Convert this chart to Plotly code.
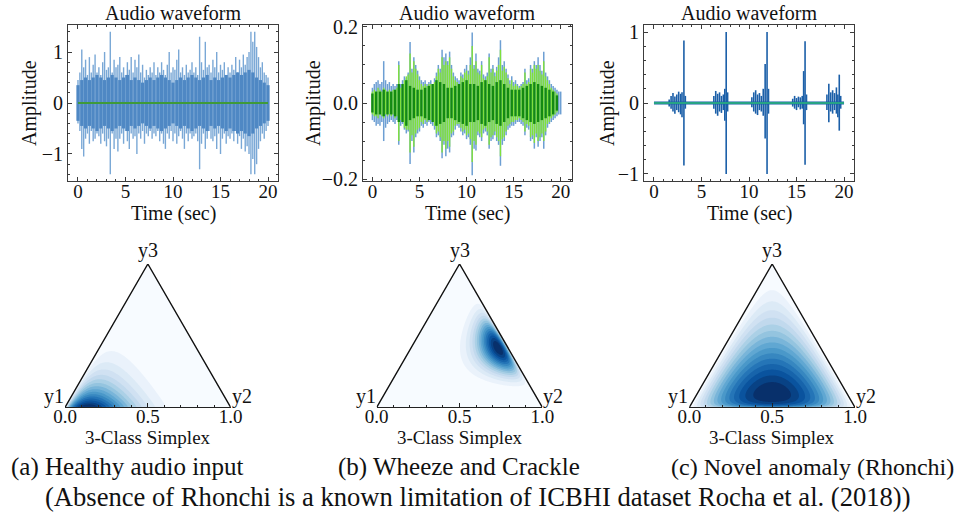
import numpy as np
import plotly.graph_objects as go
import plotly.colors as pc

W, H = 955, 521
def X(px): return px / W
def Y(py): return 1 - py / H

# ---------------- DATA ----------------
# (a) healthy: envelope of waveform, 0.2 s grid (0..20 s)
a_upper = [0.45, 0.6, 1.05, 0.7, 0.85, 0.55, 0.9, 0.6, 0.75, 0.95, 0.6,
           0.7, 0.55, 0.8, 1.0, 0.65, 0.7, 1.4, 0.6, 0.85, 0.7,
           0.75, 0.9, 0.6, 0.7, 0.55, 0.8, 0.65, 0.9, 0.6, 0.85,
           0.7, 0.95, 0.6, 0.75, 0.5, 0.65, 0.55, 0.7, 0.6, 0.8,
           0.55, 0.7, 0.6, 0.8, 0.65, 0.55, 0.75, 1.0, 0.6, 0.7,
           0.65, 0.85, 1.05, 0.6, 0.7, 0.55, 0.75, 0.6, 0.65, 0.8,
           0.6, 0.7, 0.55, 1.3, 0.8, 0.65, 1.2, 0.7, 0.75, 0.6,
           0.85, 0.7, 1.0, 0.6, 0.75, 0.65, 0.8, 0.55, 0.7, 0.6,
           0.75, 0.65, 0.9, 0.6, 0.85, 0.7, 0.95, 0.75, 0.9, 1.0,
           1.4, 1.2, 1.4, 1.1, 0.9, 0.7, 0.8, 0.6, 0.55, 0.5]
a_lower = [-0.4, -0.55, -0.9, -1.05, -0.7, -0.6, -0.8, -0.55, -0.75, -0.7, -0.6,
           -0.65, -0.8, -0.6, -0.75, -0.85, -0.7, -1.4, -0.6, -0.9, -0.7,
           -0.95, -0.7, -0.6, -0.8, -0.55, -0.75, -0.9, -0.6, -0.7, -0.65,
           -1.0, -0.6, -0.7, -0.55, -0.8, -0.6, -0.65, -0.55, -0.7, -0.6,
           -0.65, -0.55, -0.75, -0.6, -0.8, -0.9, -0.6, -0.7, -0.55, -0.75,
           -0.6, -0.8, -0.65, -0.55, -0.7, -0.9, -0.6, -0.75, -0.6, -0.7,
           -0.65, -0.6, -0.75, -1.3, -0.8, -0.6, -0.9, -0.7, -0.55, -0.7,
           -0.75, -0.65, -0.9, -0.6, -1.0, -0.7, -0.6, -0.8, -0.65, -0.7,
           -0.6, -0.75, -0.55, -0.8, -0.65, -0.9, -0.7, -0.95, -0.85, -1.0,
           -1.4, -1.1, -1.4, -1.2, -0.9, -0.75, -0.6, -0.7, -0.55, -0.45]
# (a) dense core amplitude, 0.4 s grid
a_core = [0.35, 0.45, 0.5, 0.45, 0.5, 0.55, 0.5, 0.45, 0.5, 0.55,
          0.5, 0.45, 0.5, 0.55, 0.45, 0.5, 0.45, 0.4, 0.45, 0.5,
          0.45, 0.5, 0.55, 0.5, 0.45, 0.4, 0.45, 0.5, 0.45, 0.5,
          0.55, 0.5, 0.45, 0.5, 0.55, 0.45, 0.5, 0.45, 0.5, 0.55,
          0.5, 0.55, 0.6, 0.55, 0.6, 0.65, 0.6, 0.5, 0.45, 0.4,
          0.35]
a_recon_t = [0, 20]
a_recon = [0.0, 0.0]

# (b) wheeze & crackle: blue (input) and green (reconstruction) envelopes, 0.2 s grid
b_blue_upper = [0.04, 0.05, 0.055, 0.06, 0.05, 0.055, 0.11, 0.06, 0.05, 0.055, 0.045,
                0.05, 0.045, 0.05, 0.11, 0.05, 0.06, 0.07, 0.065, 0.08, 0.16,
                0.09, 0.12, 0.1, 0.085, 0.07, 0.06, 0.055, 0.06, 0.05, 0.055,
                0.06, 0.05, 0.065, 0.08, 0.1, 0.09, 0.14, 0.12, 0.13, 0.11,
                0.135, 0.1, 0.08, 0.07, 0.065, 0.06, 0.08, 0.075, 0.09, 0.1,
                0.085, 0.12, 0.185, 0.1, 0.13, 0.09, 0.085, 0.11, 0.075, 0.07,
                0.08, 0.13, 0.09, 0.1, 0.08, 0.095, 0.12, 0.165, 0.1, 0.11,
                0.09, 0.075, 0.06, 0.07, 0.055, 0.06, 0.05, 0.045, 0.05, 0.055,
                0.09, 0.06, 0.065, 0.1, 0.09, 0.11, 0.1, 0.12, 0.1, 0.085,
                0.135, 0.08, 0.07, 0.06, 0.05, 0.045, 0.04, 0.035, 0.03, 0.03]
b_blue_lower = [-0.045, -0.05, -0.06, -0.055, -0.06, -0.05, -0.1, -0.065, -0.055, -0.05, -0.045,
                -0.05, -0.055, -0.045, -0.11, -0.06, -0.055, -0.07, -0.08, -0.075, -0.16,
                -0.1, -0.13, -0.09, -0.08, -0.075, -0.06, -0.065, -0.055, -0.06, -0.05,
                -0.055, -0.06, -0.07, -0.09, -0.085, -0.1, -0.145, -0.11, -0.14, -0.12,
                -0.13, -0.09, -0.085, -0.07, -0.06, -0.065, -0.075, -0.085, -0.08, -0.095,
                -0.09, -0.11, -0.19, -0.12, -0.125, -0.085, -0.09, -0.1, -0.08, -0.075,
                -0.085, -0.12, -0.1, -0.095, -0.085, -0.1, -0.11, -0.165, -0.11, -0.1,
                -0.085, -0.07, -0.065, -0.06, -0.06, -0.055, -0.05, -0.05, -0.055, -0.06,
                -0.085, -0.065, -0.07, -0.1, -0.095, -0.12, -0.09, -0.115, -0.1, -0.09,
                -0.12, -0.085, -0.065, -0.055, -0.05, -0.045, -0.04, -0.035, -0.03, -0.03]
b_green_upper = [0.03, 0.035, 0.03, 0.04, 0.035, 0.03, 0.04, 0.035, 0.03, 0.035, 0.03,
                 0.035, 0.03, 0.04, 0.1, 0.04, 0.05, 0.06, 0.07, 0.075, 0.13,
                 0.08, 0.11, 0.09, 0.075, 0.06, 0.05, 0.045, 0.05, 0.045, 0.05,
                 0.05, 0.045, 0.055, 0.07, 0.09, 0.08, 0.12, 0.1, 0.11, 0.1,
                 0.12, 0.09, 0.07, 0.06, 0.055, 0.05, 0.07, 0.065, 0.08, 0.085,
                 0.075, 0.1, 0.15, 0.09, 0.11, 0.08, 0.075, 0.1, 0.065, 0.06,
                 0.07, 0.12, 0.08, 0.09, 0.07, 0.085, 0.1, 0.14, 0.085, 0.095,
                 0.08, 0.065, 0.05, 0.06, 0.045, 0.05, 0.045, 0.04, 0.045, 0.05,
                 0.08, 0.05, 0.055, 0.09, 0.08, 0.1, 0.09, 0.1, 0.085, 0.075,
                 0.11, 0.07, 0.06, 0.05, 0.04, 0.035, 0.03, 0.025, 0.0, 0.0]
b_green_lower = [-0.03, -0.035, -0.035, -0.04, -0.03, -0.035, -0.04, -0.03, -0.035, -0.03, -0.035,
                 -0.03, -0.04, -0.035, -0.1, -0.045, -0.05, -0.065, -0.07, -0.07, -0.13,
                 -0.085, -0.115, -0.08, -0.07, -0.065, -0.05, -0.055, -0.045, -0.05, -0.045,
                 -0.045, -0.05, -0.06, -0.08, -0.075, -0.09, -0.13, -0.1, -0.12, -0.1,
                 -0.115, -0.08, -0.075, -0.06, -0.055, -0.055, -0.065, -0.075, -0.07, -0.085,
                 -0.08, -0.095, -0.155, -0.1, -0.11, -0.075, -0.08, -0.09, -0.07, -0.065,
                 -0.075, -0.11, -0.09, -0.085, -0.075, -0.09, -0.1, -0.14, -0.095, -0.09,
                 -0.075, -0.06, -0.055, -0.05, -0.05, -0.045, -0.045, -0.04, -0.045, -0.05,
                 -0.075, -0.055, -0.06, -0.09, -0.085, -0.105, -0.08, -0.1, -0.09, -0.08,
                 -0.1, -0.075, -0.055, -0.05, -0.04, -0.035, -0.03, -0.025, 0.0, 0.0]
# (b) dark green core, 0.4 s grid
b_core = [0.025, 0.03, 0.03, 0.035, 0.03, 0.03, 0.035, 0.05, 0.05, 0.06,
          0.045, 0.04, 0.035, 0.035, 0.04, 0.045, 0.05, 0.06, 0.055, 0.05,
          0.04, 0.04, 0.045, 0.05, 0.055, 0.06, 0.05, 0.05, 0.045, 0.055,
          0.06, 0.05, 0.045, 0.055, 0.06, 0.05, 0.04, 0.035, 0.035, 0.035,
          0.04, 0.045, 0.05, 0.055, 0.05, 0.045, 0.04, 0.035, 0.03, 0.02,
          0.0]

# (c) novel anomaly: burst spikes (time, up, down)
c_t = [1.6, 1.8, 2.0, 2.2, 2.4, 2.6, 2.8, 2.95, 3.15, 3.3,
       6.3, 6.5, 6.7, 6.9, 7.1, 7.3, 7.45, 7.6, 7.75,
       10.3, 10.5, 10.7, 10.9, 11.1, 11.3, 11.5, 11.7, 11.9, 12.05,
       14.6, 14.8, 15.0, 15.2, 15.4, 15.6, 15.75, 15.9, 16.05,
       18.2, 18.4, 18.6, 18.8, 19.0, 19.2, 19.35, 19.5, 19.65]
c_up = [0.05, 0.1, 0.14, 0.09, 0.12, 0.16, 0.13, 0.15, 0.88, 0.1,
        0.1, 0.17, 0.13, 0.15, 0.1, 0.12, 0.2, 1.0, 0.15,
        0.08, 0.15, 0.18, 0.12, 0.14, 0.1, 0.2, 0.55, 1.0, 0.2,
        0.06, 0.1, 0.07, 0.09, 0.08, 0.1, 0.45, 0.87, 0.12,
        0.12, 0.27, 0.15, 0.18, 0.14, 0.22, 0.12, 0.4, 0.1]
c_down = [-0.05, -0.08, -0.12, -0.15, -0.1, -0.13, -0.16, -0.2, -0.88, -0.08,
          -0.08, -0.15, -0.18, -0.12, -0.14, -0.1, -0.25, -1.0, -0.12,
          -0.06, -0.12, -0.15, -0.17, -0.1, -0.12, -0.18, -0.5, -1.0, -0.15,
          -0.05, -0.08, -0.1, -0.06, -0.09, -0.08, -0.3, -0.87, -0.1,
          -0.1, -0.27, -0.12, -0.15, -0.1, -0.15, -0.2, -0.39, -0.08]
c_recon_t = [0, 20]
c_recon = [0.0, 0.0]

# Dirichlet concentration read from the simplex densities (y1, y2, y3)
alpha_a = [6.0, 1.8, 1.02]
alpha_b = [1.8, 8.0, 6.5]
alpha_c = [2.0, 2.0, 1.2]

captions = ["(a) Healthy audio input", "(b) Wheeze and Crackle", "(c) Novel anomaly (Rhonchi)"]
footnote = "(Absence of Rhonchi is a known limitation of ICBHI dataset Rocha et al. (2018))"

# ---------------- FIGURE ----------------
FONT = "Liberation Serif"
AX = "#3c3c3c"
FS = 20
fig = go.Figure()

def segs(t, lo, hi):
    xs, ys = [], []
    for ti, l, h in zip(t, lo, hi):
        xs += [ti, ti, None]
        ys += [l, h, None]
    return xs, ys

def line(xs, ys, ax, color, width):
    fig.add_trace(go.Scatter(x=xs, y=ys, mode="lines", xaxis="x" + ax, yaxis="y" + ax,
                             line=dict(color=color, width=width), hoverinfo="skip",
                             showlegend=False))

t02 = np.round(np.arange(0, 20.001, 0.2), 2)
t04 = np.round(np.arange(0, 20.001, 0.4), 2)

# panel a
xs, ys = segs(t02, a_lower, a_upper); line(xs, ys, "", "#7aa8d6", 1.4)
xs, ys = segs(t04, [-v for v in a_core], a_core); line(xs, ys, "", "#4f88c4", 3.2)
line(a_recon_t, a_recon, "", "#3f9a3a", 2)

# panel b
xs, ys = segs(t02, b_blue_lower, b_blue_upper); line(xs, ys, "2", "#6d9fd3", 1.5)
xs, ys = segs(t02, b_green_lower, b_green_upper); line(xs, ys, "2", "#7fe03c", 1.4)
xs, ys = segs(t04, [-v for v in b_core], b_core); line(xs, ys, "2", "#138a12", 2.4)

# panel c
line([0, 20], [0, 0], "3", "#1b5fa8", 3)
xs, ys = segs(c_t, c_down, c_up); line(xs, ys, "3", "#1b5fa8", 1.6)
line(c_recon_t, c_recon, "3", "#26a384", 2)

# simplex densities
blues = pc.sequential.Blues
s3 = np.sqrt(3) / 2
gx = np.linspace(0, 1, 301)
gy = np.linspace(0, s3, 261)
GX, GY = np.meshgrid(gx, gy)
L3 = GY / s3
L2 = GX - L3 / 2
L1 = 1 - L2 - L3
inside = (L1 > 1e-6) & (L2 > 1e-6) & (L3 > 1e-6)

def dens(alpha):
    Z = np.zeros_like(GX)
    Z[inside] = (L1[inside] ** (alpha[0] - 1) * L2[inside] ** (alpha[1] - 1)
                 * L3[inside] ** (alpha[2] - 1))
    return Z

NL = 16
for ax, alpha in zip(["4", "5", "6"], [alpha_a, alpha_b, alpha_c]):
    Z = dens(alpha)
    zm = Z.max()
    fig.add_trace(go.Contour(x=gx, y=gy, z=Z, xaxis="x" + ax, yaxis="y" + ax,
                             colorscale=blues, zmin=0, zmax=zm, showscale=False,
                             contours=dict(start=zm / NL, end=zm * (NL - 1) / NL, size=zm / NL,
                                           coloring="fill", showlines=False),
                             line=dict(width=0), hoverinfo="skip"))
    fig.add_trace(go.Scatter(x=[-0.05, 0, 0.5, 0.5, -0.05, -0.05], y=[0, 0, s3, s3 + 0.05, s3 + 0.05, 0],
                             fill="toself", fillcolor="white", mode="lines", line=dict(width=0, color="white"),
                             xaxis="x" + ax, yaxis="y" + ax, hoverinfo="skip", showlegend=False))
    fig.add_trace(go.Scatter(x=[1.05, 1, 0.5, 0.5, 1.05, 1.05], y=[0, 0, s3, s3 + 0.05, s3 + 0.05, 0],
                             fill="toself", fillcolor="white", mode="lines", line=dict(width=0, color="white"),
                             xaxis="x" + ax, yaxis="y" + ax, hoverinfo="skip", showlegend=False))
    fig.add_trace(go.Scatter(x=[0, 0.5, 1], y=[0, s3, 0], mode="lines", cliponaxis=False,
                             line=dict(color="#111111", width=1.4),
                             xaxis="x" + ax, yaxis="y" + ax, hoverinfo="skip", showlegend=False))

def wave_axes(dom_x, rng_x, dom_y, rng_y, dtick_y, minor_y, fmt_y):
    common = dict(showline=True, linecolor=AX, linewidth=1, mirror="allticks", ticks="inside",
                  ticklen=4, tickwidth=1, tickcolor=AX, showgrid=False, zeroline=False,
                  automargin=False, tickfont=dict(family=FONT, size=FS, color="#111"))
    xa = dict(common, domain=dom_x, range=rng_x, dtick=5, tick0=0, ticklabelstandoff=-7,
              tickfont=dict(family=FONT, size=19, color="#111"),
              minor=dict(ticks="inside", ticklen=2, dtick=1, tickcolor=AX, showgrid=False))
    ya = dict(common, domain=dom_y, range=rng_y, dtick=dtick_y, tick0=0, tickformat=fmt_y,
              minor=dict(ticks="inside", ticklen=2, dtick=minor_y, tickcolor=AX, showgrid=False))
    return xa, ya

wy = [Y(181), Y(25)]
xa1, ya1 = wave_axes([X(68), X(278)], [-1.05, 21.05], wy, [-1.53, 1.53], 1, 0.2, "d")
xa2, ya2 = wave_axes([X(363), X(572)], [-1.0, 21.2], wy, [-0.205, 0.205], 0.2, 0.05, ".1f")
xa3, ya3 = wave_axes([X(644), X(854)], [-1.05, 21.05], wy, [-1.1, 1.1], 1, 0.2, "d")

layout = dict(template="none", width=W, height=H, margin=dict(l=0, r=0, t=0, b=0, pad=0),
              paper_bgcolor="white", plot_bgcolor="white", showlegend=False,
              font=dict(family=FONT, size=FS, color="#111"),
              xaxis=dict(xa1, anchor="y"), yaxis=dict(ya1, anchor="x"),
              xaxis2=dict(xa2, anchor="y2"), yaxis2=dict(ya2, anchor="x2"),
              xaxis3=dict(xa3, anchor="y3"), yaxis3=dict(ya3, anchor="x3"))

tri_left = [65, 376.7, 689.3]
tri_w = 165.7
ty = [Y(407.3), Y(264)]
for i, ax in enumerate(["4", "5", "6"]):
    L = tri_left[i]
    layout["xaxis" + ax] = dict(domain=[X(L), X(L + tri_w)], range=[0, 1], anchor="y" + ax,
                               showline=True, linecolor="#222", linewidth=1, ticks="inside",
                               ticklen=4, tickcolor="#222", tickvals=[0, 0.5, 1],
                               ticktext=["0.0", "0.5", "1.0"], showgrid=False, zeroline=False,
                               automargin=False, ticklabelstandoff=-8,
                               tickfont=dict(family=FONT, size=19, color="#111"),
                               minor=dict(ticks="inside", ticklen=2, tickvals=[0.1, 0.2, 0.3, 0.4, 0.6, 0.7, 0.8, 0.9],
                                          tickcolor="#222", showgrid=False))
    layout["yaxis" + ax] = dict(domain=ty, range=[0, s3], anchor="x" + ax, visible=False,
                               automargin=False)

fig.update_layout(**layout)

ann = []
def txt(x, y, s, size=FS, angle=0, xanchor="center", fam=FONT):
    ann.append(dict(x=X(x), y=Y(y), xref="paper", yref="paper", text=s, showarrow=False,
                    xanchor=xanchor, yanchor="middle", textangle=angle,
                    font=dict(family=fam, size=size, color="#111")))

wave_l = [68, 363, 644]
wave_r = [278, 572, 854]
amp_x = [30, 314, 608]
for i in range(3):
    cx = (wave_l[i] + wave_r[i]) / 2
    txt(cx, 13, "Audio waveform")
    txt(cx, 213, "Time (sec)")
    txt(amp_x[i], 103, "Amplitude", angle=-90)
    L = tri_left[i]
    txt(L + tri_w / 2, 250, "y3")
    txt(L - 11, 396, "y1")
    txt(L + tri_w + 11, 396, "y2")
    txt(L + tri_w / 2, 437, "3-Class Simplex", size=19)

cap_x = [9, 336, 669]
cap_size = [25, 25, 24]
for i in range(3):
    txt(cap_x[i], 467, captions[i], size=cap_size[i], xanchor="left")
txt(43, 497, footnote, size=26.6, xanchor="left")

fig.update_layout(annotations=ann)
fig.write_html("out.html", config={"displayModeBar": False},
               post_script="document.body.style.margin='0px';document.body.style.overflow='hidden';")
